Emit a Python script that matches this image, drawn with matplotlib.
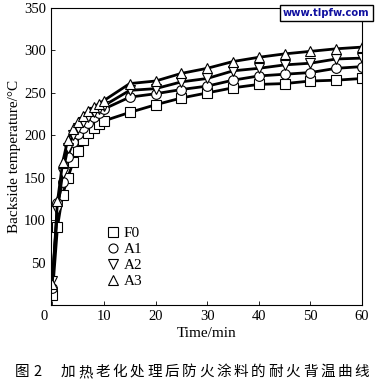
import matplotlib
matplotlib.use('Agg')
import matplotlib.pyplot as plt
import matplotlib.transforms as mtransforms

# time points (min)
time = [0, 1, 2, 3, 4, 5, 6, 7, 8, 9, 10, 15, 20, 25, 30, 35, 40, 45, 50, 55, 60]

# backside temperature (deg C) for each coating
F0 = [12, 92, 130, 150, 168, 182, 194, 203, 209, 213, 217,
      227, 236, 244, 250, 256, 260, 261, 264, 265, 267]
A1 = [20, 120, 145, 175, 192, 201, 209, 215, 221, 226, 231,
      245, 249, 254, 258, 265, 270, 272, 274, 279, 281]
A2 = [28, 112, 155, 185, 200, 209, 216, 222, 227, 231, 235,
      253, 255, 263, 267, 276, 279, 283, 285, 290, 291]
A3 = [25, 122, 168, 195, 207, 216, 223, 229, 233, 237, 241,
      261, 264, 273, 279, 287, 292, 296, 299, 302, 304]

series = [F0, A1, A2, A3]
names = ['F0', 'A1', 'A2', 'A3']
markers = ['s', 'o', 'v', '^']

xticks = [0, 10, 20, 30, 40, 50, 60]
yticks = [50, 100, 150, 200, 250, 300, 350]

fig_label = '图 2'
caption = '加热老化处理后防火涂料的耐火背温曲线'

plt.rcParams['font.family'] = ['Liberation Serif', 'DejaVu Serif']

fig = plt.figure(figsize=(3.76, 3.85), dpi=100)
ax = fig.add_axes([0.135, 0.208, 0.828, 0.771])

for vals, name, m in zip(series, names, markers):
    ax.plot(time, vals, color='black', lw=2.0, marker=m, markersize=7,
            markerfacecolor='white', markeredgecolor='black', markeredgewidth=0.8,
            label=name)

ax.set_xlim(-0.3, 60)
ax.set_ylim(0, 350)
ax.set_xticks(xticks)
ax.set_yticks(yticks)
ax.tick_params(direction='in', length=3, width=0.6, labelsize=10.5)
for s in ax.spines.values():
    s.set_linewidth(0.8)

# the origin label sits a bit left of the axis
lab0 = ax.get_xticklabels()[0]
lab0.set_transform(lab0.get_transform() +
                   mtransforms.ScaledTranslation(-0.08, 0, fig.dpi_scale_trans))

ax.set_xlabel('Time/min', fontsize=11, labelpad=3)
ax.set_ylabel('Backside temperature/\u00b0C', fontsize=11, labelpad=2)

# legend: markers only, no lines
handles = [plt.Line2D([], [], linestyle='None', marker=m, markersize=6.5,
                      markerfacecolor='white', markeredgecolor='black',
                      markeredgewidth=0.8) for m in markers]
ax.legend(handles, names, loc='lower left', bbox_to_anchor=(0.14, 0.02),
          frameon=False, fontsize=11, handletextpad=0.2, labelspacing=0.15,
          handlelength=1.0, borderpad=0.2)

# watermark box
fig.text(0.868, 0.967, 'www.tlpfw.com', ha='center', va='center',
         fontsize=7.2, color='#1010a0', fontweight='bold', family='DejaVu Sans',
         bbox=dict(boxstyle='square,pad=0.3', facecolor='white',
                   edgecolor='black', linewidth=1.0))

# caption, drawn with wide letter spacing
cjk = ['Noto Sans CJK SC', 'DejaVu Sans']
fig.text(22 / 376, 0.034, fig_label[0], ha='center', va='center', fontsize=10.5, family=cjk)
fig.text(37 / 376, 0.034, fig_label[-1], ha='center', va='center', fontsize=10.5, family=cjk)
step = (362 - 68) / (len(caption) - 1)
for i, ch in enumerate(caption):
    fig.text((68 + i * step) / 376, 0.034, ch, ha='center', va='center',
             fontsize=10.5, family=cjk)

fig.savefig('out.png', dpi=100)
